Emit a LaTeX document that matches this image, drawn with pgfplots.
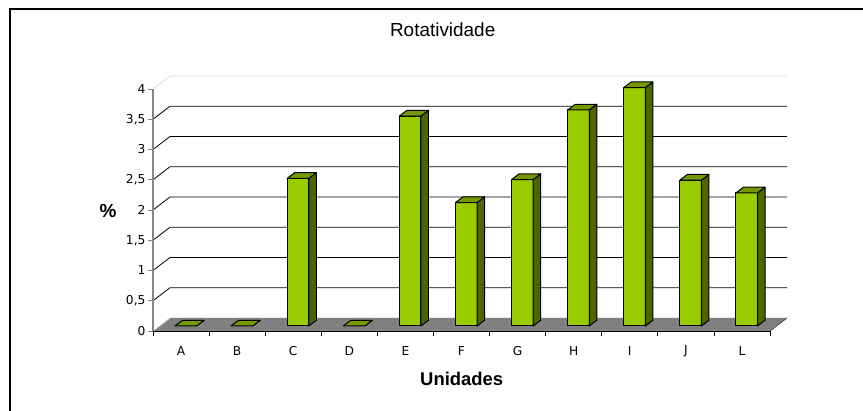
\documentclass[border=0pt]{standalone}
\usepackage{fontspec}
\setmainfont{Liberation Sans}
\newfontfamily\tickfont{DejaVu Sans}
\usepackage{pgfplots}
\pgfplotsset{compat=1.18}
\definecolor{barfront}{HTML}{99CC00}
\definecolor{barside}{HTML}{4D6600}
\definecolor{bartop}{HTML}{739900}
\definecolor{floorgray}{HTML}{808080}
\definecolor{axgray}{HTML}{868686}
\definecolor{lightgrid}{HTML}{D9D9D9}

% #1 = category index (0..10), #2 = value
\newcommand\bbar[2]{%
  \pgfmathsetmacro\bxa{#1+0.5+0.085-0.1925}%
  \pgfmathsetmacro\bxb{\bxa+0.385}%
  \pgfmathsetmacro\bxc{\bxb+0.134}%
  \pgfmathsetmacro\bxd{\bxa+0.134}%
  \pgfmathsetmacro\bya{0.083}%
  \pgfmathsetmacro\byb{0.083+#2}%
  \pgfmathsetmacro\byc{\byb+0.094}%
  \pgfmathsetmacro\byd{0.083+0.094}%
  \addplot[fill=barfront, draw=black, line width=1bp, line join=round]
    coordinates {(\bxa,\bya) (\bxb,\bya) (\bxb,\byb) (\bxa,\byb)} -- cycle;
  \addplot[fill=barside, draw=black, line width=1bp, line join=round]
    coordinates {(\bxb,\bya) (\bxc,\byd) (\bxc,\byc) (\bxb,\byb)} -- cycle;
  \addplot[fill=bartop, draw=black, line width=1bp, line join=round]
    coordinates {(\bxa,\byb) (\bxb,\byb) (\bxc,\byc) (\bxd,\byc)} -- cycle;
}

\begin{document}
\begin{tikzpicture}
\useasboundingbox (0,0) rectangle (863bp,411bp);
\draw[line width=1.3bp] (10bp,0) -- (10bp,402bp) -- (863bp,402bp);
\begin{axis}[
  at={(153bp,80bp)}, anchor=south west,
  scale only axis, width=617bp, height=242bp,
  xmin=0, xmax=11, ymin=0, ymax=4,
  clip=false, axis on top,
  axis x line*=bottom, axis y line*=left,
  x axis line style={black, line width=0.8bp},
  y axis line style={axgray, line width=1.8bp},
  tick align=outside, major tick length=5bp,
  xtick={0,1,...,11}, xticklabels={},
  x tick style={black, line width=0.8bp},
  extra x ticks={0.5,1.5,...,10.5},
  extra x tick labels={A,B,C,D,E,F,G,H,I,J,L},
  extra x tick style={major tick length=0pt,
     xticklabel style={anchor=center, yshift=-20bp}},
  ytick={0,0.5,...,4},
  y tick style={axgray, line width=1bp},
  yticklabel style={xshift=1bp},
  ticklabel style={font=\tickfont\fontsize{12.3}{14}\selectfont},
  /pgf/number format/assume math mode=true,
  /pgf/number format/use comma,
  title=Rotatividade,
  title style={at={(axis description cs:0.4695,1.219)}, anchor=center,
     font=\fontsize{19}{21}\selectfont},
  xlabel=Unidades,
  xlabel style={at={(axis description cs:0.5003,-0.1996)}, anchor=center,
     font=\bfseries\fontsize{18.5}{20}\selectfont},
  ylabel=\%,
  ylabel style={rotate=-90, at={(axis description cs:-0.0729,0.497)}, anchor=center,
     font=\bfseries\fontsize{19}{21}\selectfont},
]
% floor
\addplot[fill=floorgray, draw=none] coordinates {(0,0) (11,0) (11.303,0.215) (0.303,0.215)} -- cycle;
\addplot[floorgray!60!black, line width=0.8bp] coordinates {(11,0) (11.303,0.215)};
\addplot[lightgrid, line width=0.8bp] coordinates {(0,0) (0.303,0.215)};
% gridlines on side and back walls
\addplot[black, line width=0.8bp] coordinates {(0,0.5) (0.303,0.715) (11.303,0.715)};
\addplot[black, line width=0.8bp] coordinates {(0,1) (0.303,1.215) (11.303,1.215)};
\addplot[black, line width=0.8bp] coordinates {(0,1.5) (0.303,1.715) (11.303,1.715)};
\addplot[black, line width=0.8bp] coordinates {(0,2) (0.303,2.215) (11.303,2.215)};
\addplot[black, line width=0.8bp] coordinates {(0,2.5) (0.303,2.715) (11.303,2.715)};
\addplot[black, line width=0.8bp] coordinates {(0,3) (0.303,3.215) (11.303,3.215)};
\addplot[black, line width=0.8bp] coordinates {(0,3.5) (0.303,3.715) (11.303,3.715)};
\addplot[lightgrid, line width=0.8bp] coordinates {(0,4) (0.303,4.215) (11.303,4.215)};
% bars
\bbar{0}{0}
\bbar{1}{0}
\bbar{2}{2.44}
\bbar{3}{0}
\bbar{4}{3.47}
\bbar{5}{2.04}
\bbar{6}{2.42}
\bbar{7}{3.57}
\bbar{8}{3.94}
\bbar{9}{2.41}
\bbar{10}{2.20}
\end{axis}
\end{tikzpicture}
\end{document}
